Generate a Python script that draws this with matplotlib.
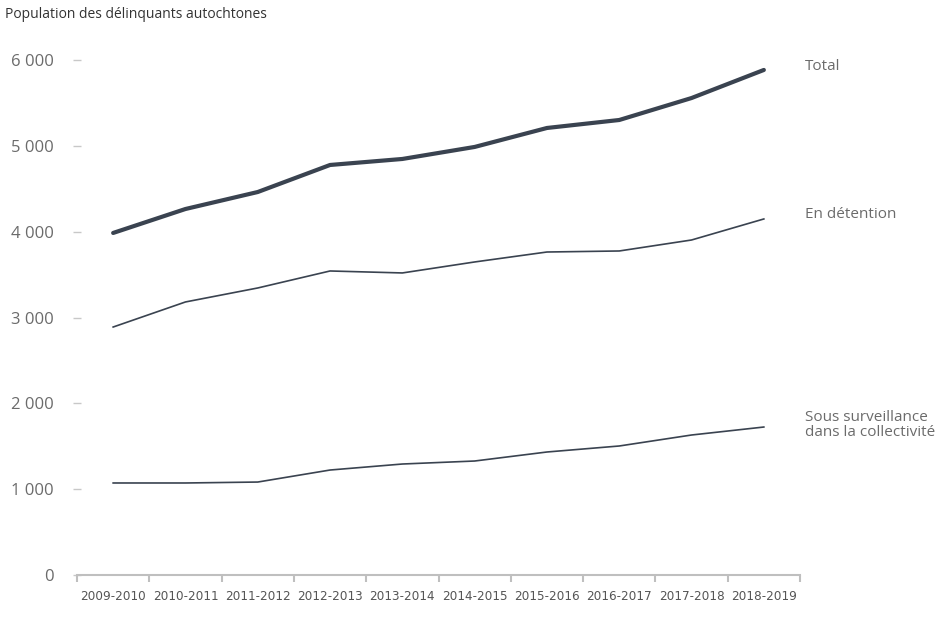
import matplotlib
matplotlib.use('Agg')
import matplotlib.pyplot as plt
from matplotlib import font_manager
from matplotlib.textpath import TextPath

# Données
periodes = ['2009-2010', '2010-2011', '2011-2012', '2012-2013', '2013-2014',
            '2014-2015', '2015-2016', '2016-2017', '2017-2018', '2018-2019']
total = [3985, 4264, 4462, 4777, 4847, 4987, 5208, 5301, 5557, 5884]
detention = [2889, 3181, 3344, 3542, 3519, 3647, 3763, 3775, 3903, 4148]
surveillance = [1072, 1072, 1083, 1223, 1293, 1328, 1433, 1503, 1631, 1724]
yticks = [0, 1000, 2000, 3000, 4000, 5000, 6000]

LINE = '#3a4350'
GREY = '#6b6b6b'

# police étroite (droite, pas italique) pour les années, si disponible
cond = None
for f in font_manager.fontManager.ttflist:
    if f.style != 'normal' or f.weight not in (400, 'normal', 'regular'):
        continue
    if 'Condensed' in f.name or 'Narrow' in f.name or f.stretch in ('condensed', 'semi-condensed'):
        cond = f.fname
        break
if cond:
    xfont = font_manager.FontProperties(fname=cond, size=10)
else:
    xfont = font_manager.FontProperties(family='Liberation Sans', size=10)
# largeur visée d'une étiquette : ~64 px
w = TextPath((0, 0), periodes[0], prop=xfont).get_extents().width * 100 / 72
xfont.set_size(10 * 64 / w)

plt.rcParams['font.family'] = ['Open Sans', 'DejaVu Sans']

fig = plt.figure(figsize=(9.43, 6.2), dpi=100)
ax = fig.add_axes([77/943, 1 - 575/620, (800 - 77)/943, (575 - 60)/620])

x = list(range(len(periodes)))
ax.plot(x, total, color=LINE, lw=3.0, solid_capstyle='round', clip_on=False)
ax.plot(x, detention, color=LINE, lw=1.2, clip_on=False)
ax.plot(x, surveillance, color=LINE, lw=1.2, clip_on=False)

ax.set_xlim(-0.5, len(periodes) - 0.5)
ax.set_ylim(0, 6000)

for s in ['top', 'right', 'left']:
    ax.spines[s].set_visible(False)
ax.spines['bottom'].set_color('#bfbfbf')
ax.spines['bottom'].set_linewidth(1.5)

ax.set_yticks(yticks)
ax.set_yticklabels([f'{v:,}'.replace(',', ' ') for v in yticks])
ax.tick_params(axis='y', direction='inout', length=6, width=1, color='#c8c8c8',
               pad=14, labelsize=12, labelcolor=GREY)

ax.set_xticks(x)
ax.set_xticklabels(periodes, color='#555555')
for t in ax.get_xticklabels():
    t.set_fontproperties(xfont)
ax.tick_params(axis='x', length=0, pad=11)
ax.set_xticks([i - 0.5 for i in range(len(periodes) + 1)], minor=True)
ax.tick_params(axis='x', which='minor', length=5, width=1.5, color='#bfbfbf', direction='out')

fig.text(5/943, 1 - 15/620, 'Population des délinquants autochtones', fontsize=10,
         color='#333333', va='center', ha='left')

lab = dict(fontsize=11, color=GREY, ha='left', va='center')
fig.text(805/943, 1 - 67/620, 'Total', **lab)
fig.text(805/943, 1 - 214/620, 'En détention', **lab)
fig.text(805/943, 1 - 425/620, 'Sous surveillance\ndans la collectivité',
         linespacing=0.95, **lab)

fig.savefig('out.png', dpi=100, facecolor='white')
